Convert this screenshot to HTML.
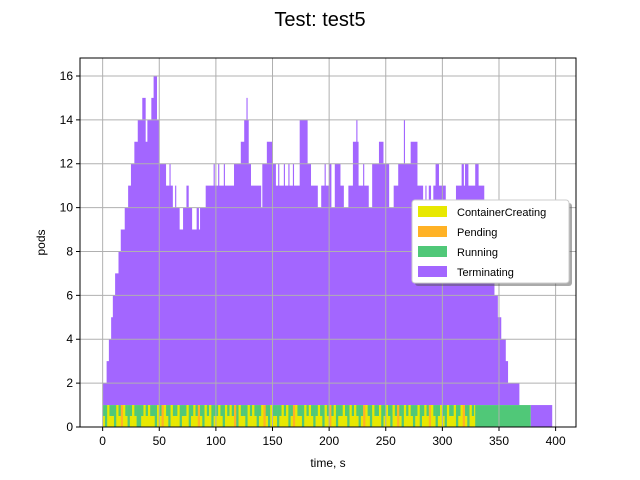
<!DOCTYPE html>
<html><head><meta charset="utf-8"><style>
html,body{margin:0;padding:0;background:#fff;}
svg{display:block;font-family:"Liberation Sans","DejaVu Sans",sans-serif;}
</style></head><body>
<svg id="chart" width="640" height="480" viewBox="0 0 640 480">
<text x="320" y="26" text-anchor="middle" font-size="20" fill="#000">Test: test5</text>
<g id="plot"></g>
</svg>
<script>
// Data
const totalTimes = [0,3.5,5.5,7.5,9,11,14,16,19.5,22.5,25,28,31,35,38,39.5,43,45,48,50,56,59,60,62,64,65,68,71,74,76,79,83,85,86,91,98,99,102,103,107,108,116,122,125,127,128,129,131,140,141,145,150,153,155,156,160,161,164,165,168,169,174,181,184,190,193,196,197,200,202,205,210,213,217,221,224,225,226,230,231,235,238,244,248,253,257,261,266,267,272,278,283,285,286,288,290,292,294,297,303,312,317,319,320,323,329,332,337,341,344,346,349,352,356,358,368];
const totalValues = [2,3,4,5,6,7,8,9,10,11,12,13,14,15,13,14,15,16,14,12,11,12,11,10,11,10,9,10,11,10,9,10,9,10,11,12,11,12,11,12,11,12,13,14,15,14,12,11,10,12,13,12,11,12,11,12,11,12,11,12,11,14,12,11,10,11,12,11,12,10,12,11,10,11,13,14,13,11,12,11,10,12,13,12,10,11,12,14,12,13,11,10,11,10,11,10,11,12,11,10,11,12,11,12,11,12,11,10,8,7,6,5,4,3,2,1];
const runningEnd = 378;
const terminatingTailEnd = 397;
const stripeStart = 0, stripeEnd = 329, stripeStep = 2;
const stripeStates = "MGYMMGYMOYMGMYMGGMYMYMMGYMOYMGYMMYGMMYGMYMOMGYMYGMMYMGYMYMOGYMMGYMYMGMYOMGYMMGMYMYGMOYMMGYMYMGMYMGYMOMYGMMYMGYMYMGMOYMGYMMYGMYMGYMOMGYMYMGMYGMYMOYMGMYMGYMMYGMYOMGYMYMGMY";
const xTicks = [0,50,100,150,200,250,300,350,400];
const yTicks = [0,2,4,6,8,10,12,14,16];

const X0=80,X1=576,Y0=58,Y1=427;
const xMin=-20,xMax=418,yMin=0,yMax=16.82;
const xs=v=>X0+(v-xMin)/(xMax-xMin)*(X1-X0);
const ys=v=>Y1-(v-yMin)/(yMax-yMin)*(Y1-Y0);
const NS="http://www.w3.org/2000/svg";
const plot=document.getElementById('plot');
function mk(tag,attrs,parent){const e=document.createElementNS(NS,tag);for(const k in attrs)e.setAttribute(k,attrs[k]);(parent||plot).appendChild(e);return e;}
const C={Y:'#e8e800',O:'#ffb225',G:'#50c878',T:'#a366ff'};

// terminating area (stacked above band of height 1)
let d=`M${xs(0)},${ys(1)}`;
for(let i=0;i<totalTimes.length;i++){
  const t0=totalTimes[i], t1=(i+1<totalTimes.length)?totalTimes[i+1]:runningEnd;
  const v=totalValues[i];
  d+=` L${xs(t0)},${ys(v)} L${xs(t1)},${ys(v)}`;
}
d+=` L${xs(runningEnd)},${ys(1)} Z`;
const area=mk('path',{d:d,fill:C.T});


const tail=mk('rect',{x:xs(runningEnd),y:ys(1),width:xs(terminatingTailEnd)-xs(runningEnd),height:ys(0)-ys(1),fill:C.T});



// bottom band stripes
for(let i=0;i*stripeStep+stripeStart<stripeEnd;i++){
  const t=stripeStart+i*stripeStep;
  const t1=Math.min(t+stripeStep,stripeEnd);
  const s=stripeStates[i % stripeStates.length], x=xs(t), w=xs(t1)-xs(t)+0.3;
  if(s==='M'){
    const r1=mk('rect',{x:x,y:ys(1),width:w,height:(ys(0)-ys(1))*0.5,fill:C.G});
    
    
    const r2=mk('rect',{x:x,y:ys(0.5),width:w,height:(ys(0)-ys(1))*0.5,fill:C.Y});
    
    
  } else {
    const r=mk('rect',{x:x,y:ys(1),width:w,height:ys(0)-ys(1),fill:C[s]});
    
    
  }
}
const run=mk('rect',{x:xs(stripeEnd),y:ys(1),width:xs(runningEnd)-xs(stripeEnd),height:ys(0)-ys(1),fill:C.G});



// grid
xTicks.forEach(v=>{const l=mk('line',{x1:xs(v),x2:xs(v),y1:Y0,y2:Y1,stroke:'#b0b0b0','stroke-width':1});

});
yTicks.forEach(v=>{const l=mk('line',{x1:X0,x2:X1,y1:ys(v),y2:ys(v),stroke:'#b0b0b0','stroke-width':1});

});

// frame
const fr=mk('rect',{x:X0,y:Y0,width:X1-X0,height:Y1-Y0,fill:'none',stroke:'#000','stroke-width':1});



// ticks & labels
xTicks.forEach(v=>{mk('line',{x1:xs(v),x2:xs(v),y1:Y1,y2:Y1+4,stroke:'#000'});
const t=mk('text',{x:xs(v),y:Y1+18,'text-anchor':'middle','font-size':12,fill:'#000'});t.textContent=v;

});
yTicks.forEach(v=>{mk('line',{x1:X0-4,x2:X0,y1:ys(v),y2:ys(v),stroke:'#000'});
const t=mk('text',{x:X0-7,y:ys(v)+4,'text-anchor':'end','font-size':12,fill:'#000'});t.textContent=v;

});
const xt=mk('text',{x:(X0+X1)/2,y:467,'text-anchor':'middle','font-size':12,fill:'#000'});xt.textContent='time, s';


const yt=mk('text',{x:45,y:(Y0+Y1)/2,'text-anchor':'middle','font-size':12,fill:'#000',transform:`rotate(-90 45 ${(Y0+Y1)/2})`});yt.textContent='pods';



// legend
const lg=mk('g',{});


mk('rect',{x:415,y:203,width:157,height:83,rx:3,fill:'#555',opacity:0.5},lg);
mk('rect',{x:412,y:200,width:157,height:83,rx:3,fill:'#fff',stroke:'#ccc'},lg);
const names=['ContainerCreating','Pending','Running','Terminating'];
const cols=[C.Y,C.O,C.G,C.T];
names.forEach((n,i)=>{
  const y=212+i*20;
  const g=mk('g',{},lg);
  
  
  mk('rect',{x:418,y:y-6,width:29,height:11,fill:cols[i]},g);
  const t=mk('text',{x:457,y:y+4,'font-size':11,fill:'#000'},g);t.textContent=n;
});
</script>
</body></html>
